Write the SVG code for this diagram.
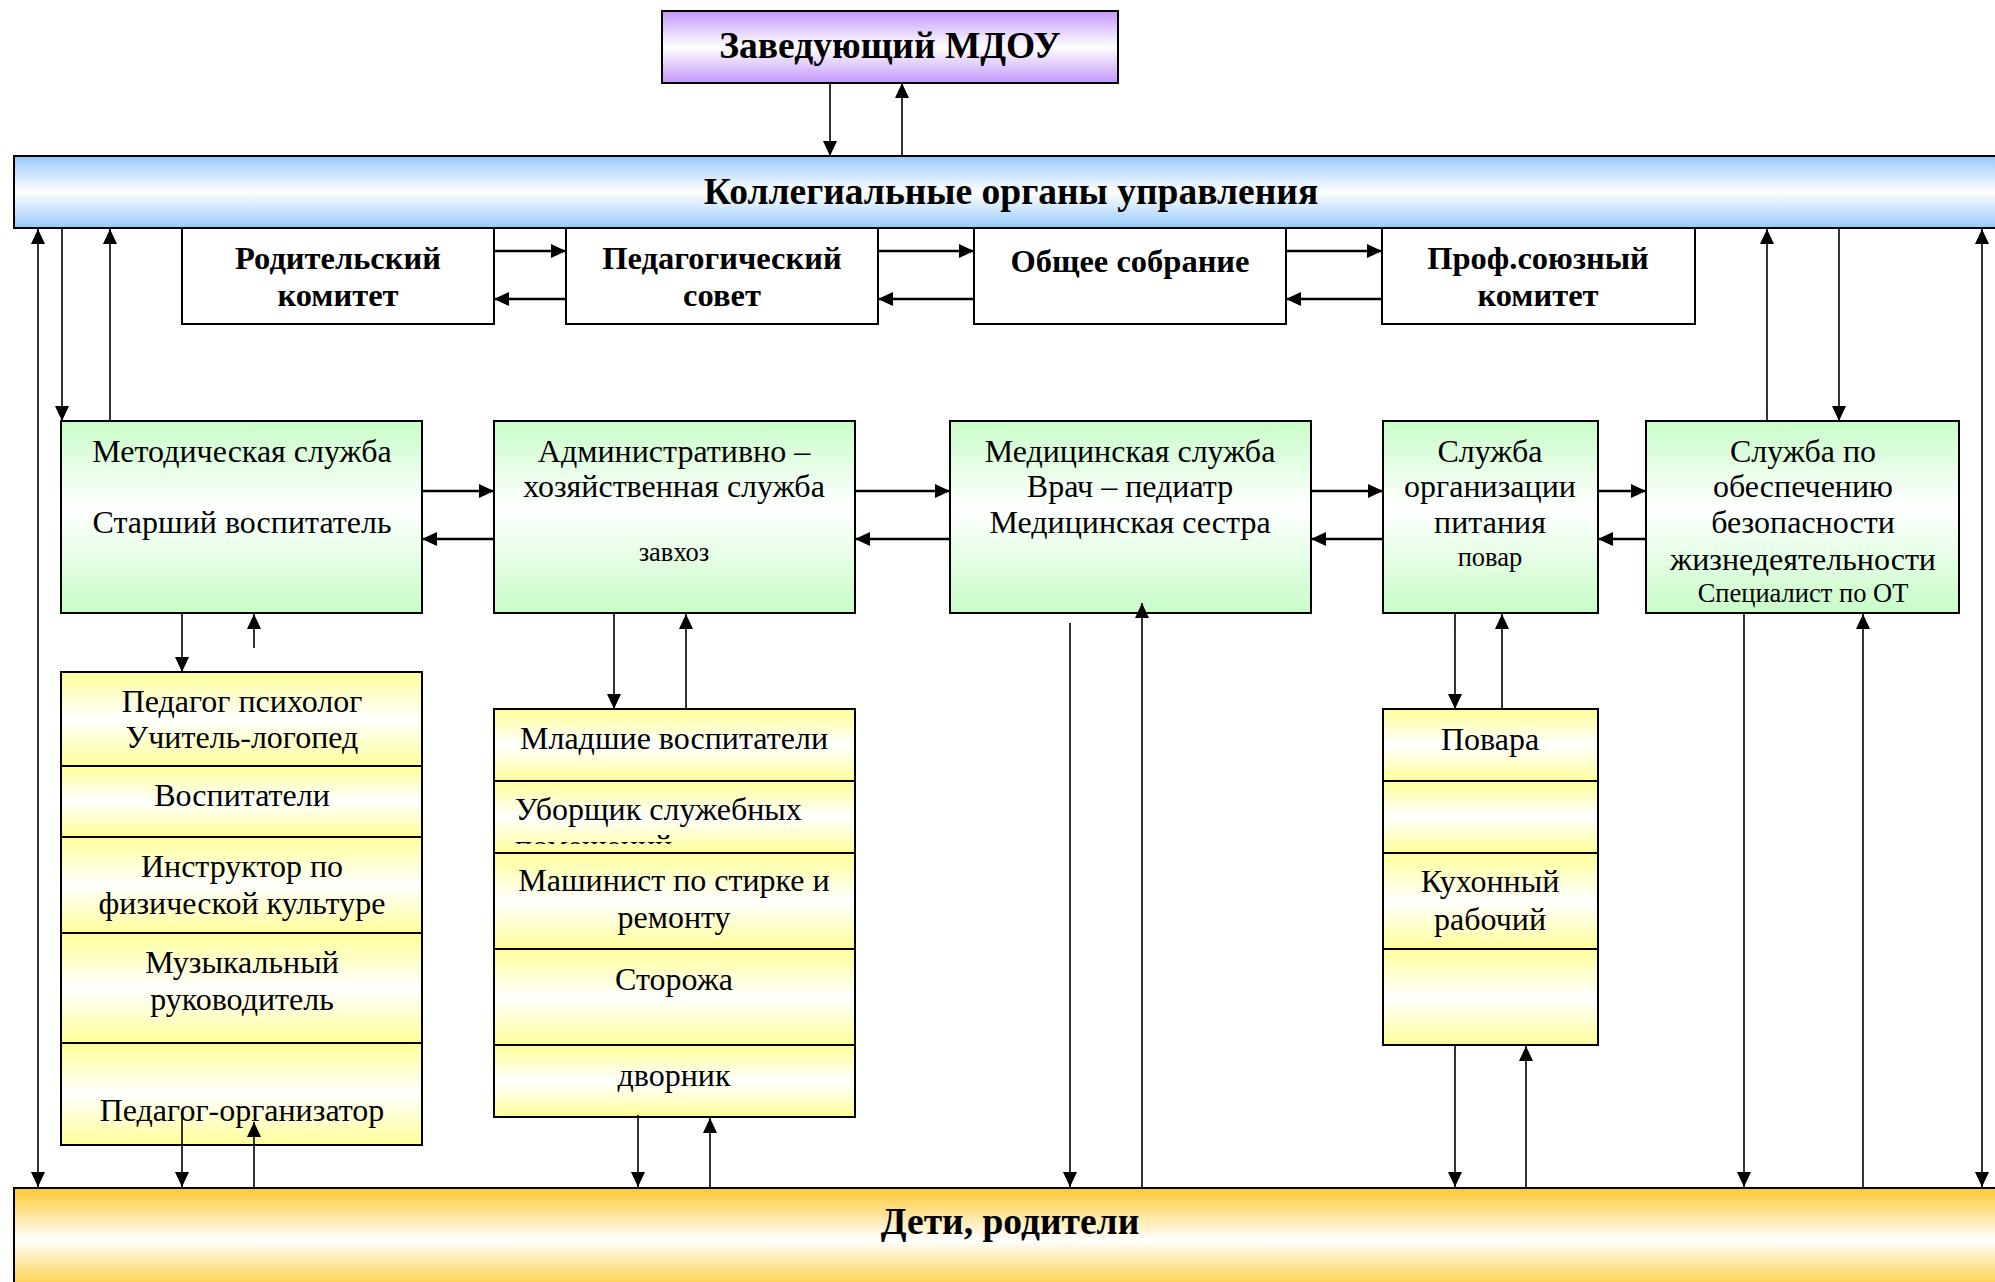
<svg xmlns="http://www.w3.org/2000/svg" width="1995" height="1282" viewBox="0 0 1995 1282">
<defs>
<linearGradient id="gPurple" x1="0" y1="0" x2="0" y2="1"><stop offset="0" stop-color="#C497FA"/><stop offset="0.5" stop-color="#FFFFFF"/><stop offset="1" stop-color="#C497FA"/></linearGradient>
<linearGradient id="gBlue" x1="0" y1="0" x2="0" y2="1"><stop offset="0" stop-color="#97C9FA"/><stop offset="0.5" stop-color="#FFFFFF"/><stop offset="1" stop-color="#97C9FA"/></linearGradient>
<linearGradient id="gGreen" x1="0" y1="0" x2="0" y2="1"><stop offset="0" stop-color="#C8FCC8"/><stop offset="0.45" stop-color="#FFFFFF"/><stop offset="1" stop-color="#C8FCC8"/></linearGradient>
<linearGradient id="gYellow" x1="0" y1="0" x2="0" y2="1"><stop offset="0" stop-color="#FFFF99"/><stop offset="0.5" stop-color="#FFFFFF"/><stop offset="1" stop-color="#FFFF99"/></linearGradient>
<linearGradient id="gOrange" x1="0" y1="0" x2="0" y2="1"><stop offset="0" stop-color="#FFC933"/><stop offset="0.5" stop-color="#FFFFFF"/><stop offset="1" stop-color="#FFC933"/></linearGradient>
<marker id="ah" markerUnits="userSpaceOnUse" markerWidth="16" markerHeight="14" refX="15" refY="7" orient="auto-start-reverse"><path d="M0,0 L15,7 L0,14 Z" fill="#000"/></marker>
<clipPath id="clipUb"><rect x="494" y="781" width="361" height="63"/></clipPath>
</defs>
<style>
text{font-family:"Liberation Serif","Times New Roman",serif;fill:#000;text-anchor:middle}
.b{font-weight:bold}
.t37{font-size:37.5px}
.t325{font-size:32.5px}
.t32{font-size:32px}
.t26{font-size:26.5px}
.box{stroke:#000;stroke-width:2}
.g{fill:url(#gGreen)}
.y{fill:url(#gYellow)}
.w{fill:#fff}
.thin{stroke:#000;stroke-width:1.6;fill:none}
.thick{stroke:#000;stroke-width:2.4;fill:none}
.l{text-anchor:start}
</style>

<g id="zaveduyushchiy">
<rect class="box" x="662" y="11" width="456" height="72" fill="url(#gPurple)"/>
<text class="b t37" x="890" y="58">Заведующий МДОУ</text>
</g>

<g id="kollegialnye">
<rect class="box" x="14" y="156" width="2000" height="72" fill="url(#gBlue)"/>
<text class="b t37" x="1011" y="204">Коллегиальные органы управления</text>
</g>

<g id="roditelskiy">
<rect class="box w" x="182" y="228" width="312" height="96"/>
<text class="b t325" x="338" y="269">Родительский</text>
<text class="b t325" x="338" y="306">комитет</text>
</g>
<g id="pedsovet">
<rect class="box w" x="566" y="228" width="312" height="96"/>
<text class="b t325" x="722" y="269">Педагогический</text>
<text class="b t325" x="722" y="306">совет</text>
</g>
<g id="obshchee">
<rect class="box w" x="974" y="228" width="312" height="96"/>
<text class="b t325" x="1130" y="272">Общее собрание</text>
</g>
<g id="profsoyuz">
<rect class="box w" x="1382" y="228" width="313" height="96"/>
<text class="b t325" x="1538" y="269">Проф.союзный</text>
<text class="b t325" x="1538" y="306">комитет</text>
</g>

<g id="metod">
<rect class="box g" x="61" y="421" width="361" height="192"/>
<text class="t32" x="242" y="462">Методическая служба</text>
<text class="t32" x="242" y="533">Старший воспитатель</text>
</g>
<g id="admin">
<rect class="box g" x="494" y="421" width="361" height="192"/>
<text class="t32" x="674" y="462">Административно –</text>
<text class="t32" x="674" y="497">хозяйственная служба</text>
<text class="t26" x="674" y="561">завхоз</text>
</g>
<g id="med">
<rect class="box g" x="950" y="421" width="361" height="192"/>
<text class="t32" x="1130" y="462">Медицинская служба</text>
<text class="t32" x="1130" y="497">Врач – педиатр</text>
<text class="t32" x="1130" y="533">Медицинская сестра</text>
</g>
<g id="pitanie">
<rect class="box g" x="1383" y="421" width="215" height="192"/>
<text class="t32" x="1490" y="462">Служба</text>
<text class="t32" x="1490" y="497">организации</text>
<text class="t32" x="1490" y="533">питания</text>
<text class="t26" x="1490" y="566">повар</text>
</g>
<g id="bezopasnost">
<rect class="box g" x="1646" y="421" width="313" height="192"/>
<text class="t32" x="1803" y="462">Служба по</text>
<text class="t32" x="1803" y="497">обеспечению</text>
<text class="t32" x="1803" y="533">безопасности</text>
<text class="t32" x="1803" y="570">жизнедеятельности</text>
<text class="t26" x="1803" y="602">Специалист по ОТ</text>
</g>

<g id="ped-stack">
<rect class="box y" x="61" y="672" width="361" height="94"/>
<text class="t32" x="242" y="712">Педагог психолог</text>
<text class="t32" x="242" y="748">Учитель-логопед</text>
<rect class="box y" x="61" y="766" width="361" height="71"/>
<text class="t32" x="242" y="806">Воспитатели</text>
<rect class="box y" x="61" y="837" width="361" height="96"/>
<text class="t32" x="242" y="877">Инструктор по</text>
<text class="t32" x="242" y="914">физической культуре</text>
<rect class="box y" x="61" y="933" width="361" height="110"/>
<text class="t32" x="242" y="973">Музыкальный</text>
<text class="t32" x="242" y="1010">руководитель</text>
<rect class="box y" x="61" y="1043" width="361" height="102"/>
<text class="t32" x="242" y="1121">Педагог-организатор</text>
</g>

<g id="admin-stack">
<rect class="box y" x="494" y="709" width="361" height="72"/>
<text class="t32" x="674" y="749">Младшие воспитатели</text>
<rect class="box y" x="494" y="781" width="361" height="72"/>
<text class="t32 l" x="515" y="820">Уборщик служебных</text>
<text class="t32 l" x="515" y="857" clip-path="url(#clipUb)">помещений</text>
<rect class="box y" x="494" y="853" width="361" height="96"/>
<text class="t32" x="674" y="891">Машинист по стирке и</text>
<text class="t32" x="674" y="928">ремонту</text>
<rect class="box y" x="494" y="949" width="361" height="96"/>
<text class="t32" x="674" y="990">Сторожа</text>
<rect class="box y" x="494" y="1045" width="361" height="72"/>
<text class="t32" x="674" y="1086">дворник</text>
</g>

<g id="povara-stack">
<rect class="box y" x="1383" y="709" width="215" height="72"/>
<text class="t32" x="1490" y="750">Повара</text>
<rect class="box y" x="1383" y="781" width="215" height="72"/>
<rect class="box y" x="1383" y="853" width="215" height="96"/>
<text class="t32" x="1490" y="892">Кухонный</text>
<text class="t32" x="1490" y="930">рабочий</text>
<rect class="box y" x="1383" y="949" width="215" height="96"/>
</g>

<g id="deti">
<rect class="box" x="14" y="1188" width="2000" height="104" fill="url(#gOrange)"/>
<text class="b t37" x="1010" y="1234">Дети, родители</text>
</g>

<g id="connectors">
<g class="thin">
<line x1="830" y1="83" x2="830" y2="156" marker-end="url(#ah)"/>
<line x1="902" y1="156" x2="902" y2="83" marker-end="url(#ah)"/>
<line x1="38" y1="229" x2="38" y2="1187" marker-start="url(#ah)" marker-end="url(#ah)"/>
<line x1="62" y1="227" x2="62" y2="421" marker-end="url(#ah)"/>
<line x1="110" y1="421" x2="110" y2="229" marker-end="url(#ah)"/>
<line x1="1767" y1="421" x2="1767" y2="229" marker-end="url(#ah)"/>
<line x1="1839" y1="227" x2="1839" y2="421" marker-end="url(#ah)"/>
<line x1="1982" y1="229" x2="1982" y2="1187" marker-start="url(#ah)" marker-end="url(#ah)"/>
<line x1="182" y1="613" x2="182" y2="672" marker-end="url(#ah)"/>
<line x1="254" y1="648" x2="254" y2="614" marker-end="url(#ah)"/>
<line x1="614" y1="613" x2="614" y2="709" marker-end="url(#ah)"/>
<line x1="686" y1="709" x2="686" y2="614" marker-end="url(#ah)"/>
<line x1="1455" y1="613" x2="1455" y2="709" marker-end="url(#ah)"/>
<line x1="1502" y1="709" x2="1502" y2="614" marker-end="url(#ah)"/>
<line x1="1070" y1="623" x2="1070" y2="1187" marker-end="url(#ah)"/>
<line x1="1142" y1="1188" x2="1142" y2="603" marker-end="url(#ah)"/>
<line x1="1744" y1="613" x2="1744" y2="1187" marker-end="url(#ah)"/>
<line x1="1863" y1="1188" x2="1863" y2="614" marker-end="url(#ah)"/>
<line x1="182" y1="1117" x2="182" y2="1187" marker-end="url(#ah)"/>
<line x1="254" y1="1188" x2="254" y2="1122" marker-end="url(#ah)"/>
<line x1="638" y1="1115" x2="638" y2="1187" marker-end="url(#ah)"/>
<line x1="710" y1="1188" x2="710" y2="1118" marker-end="url(#ah)"/>
<line x1="1455" y1="1045" x2="1455" y2="1187" marker-end="url(#ah)"/>
<line x1="1526" y1="1188" x2="1526" y2="1046" marker-end="url(#ah)"/>
</g>
<g class="thick">
<line x1="494" y1="251" x2="566" y2="251" marker-end="url(#ah)"/>
<line x1="566" y1="299" x2="494" y2="299" marker-end="url(#ah)"/>
<line x1="878" y1="251" x2="974" y2="251" marker-end="url(#ah)"/>
<line x1="974" y1="299" x2="878" y2="299" marker-end="url(#ah)"/>
<line x1="1286" y1="251" x2="1382" y2="251" marker-end="url(#ah)"/>
<line x1="1382" y1="299" x2="1286" y2="299" marker-end="url(#ah)"/>
<line x1="422" y1="491" x2="494" y2="491" marker-end="url(#ah)"/>
<line x1="494" y1="539" x2="422" y2="539" marker-end="url(#ah)"/>
<line x1="855" y1="491" x2="950" y2="491" marker-end="url(#ah)"/>
<line x1="950" y1="539" x2="855" y2="539" marker-end="url(#ah)"/>
<line x1="1311" y1="491" x2="1383" y2="491" marker-end="url(#ah)"/>
<line x1="1383" y1="539" x2="1311" y2="539" marker-end="url(#ah)"/>
<line x1="1598" y1="491" x2="1646" y2="491" marker-end="url(#ah)"/>
<line x1="1646" y1="539" x2="1598" y2="539" marker-end="url(#ah)"/>
</g>
</g>
</svg>
